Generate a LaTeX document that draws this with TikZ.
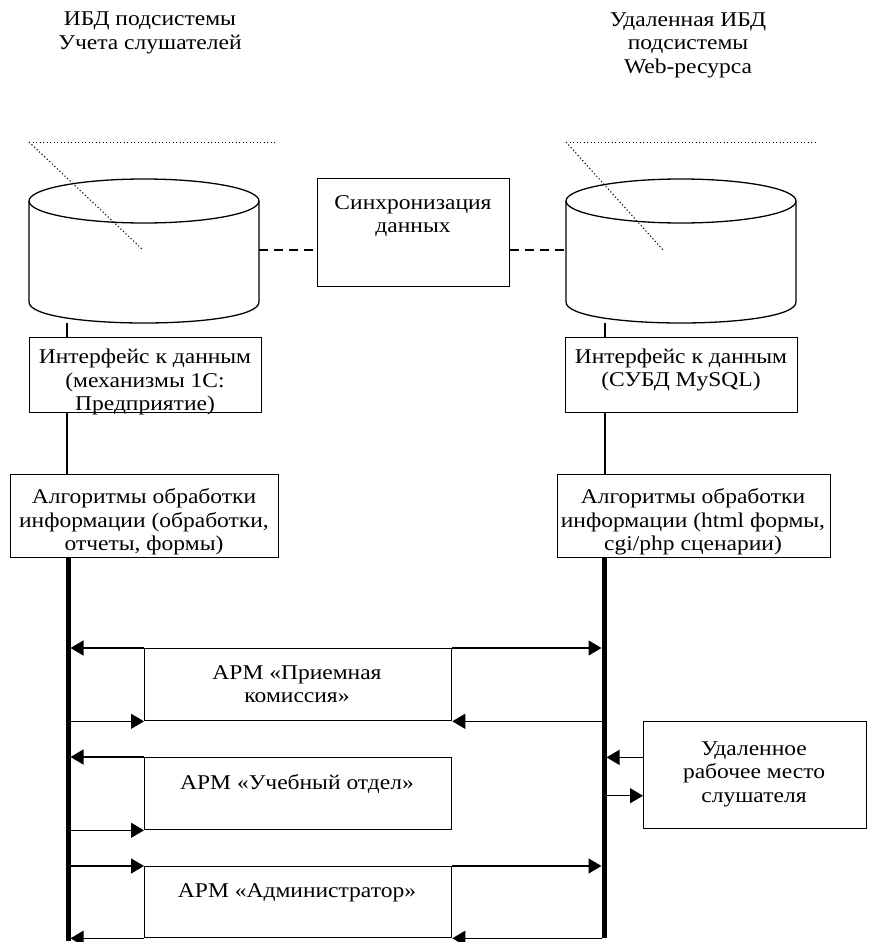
\documentclass[tikz,border=0pt]{standalone}
\usepackage{fontspec}
\setmainfont{Liberation Serif}[FakeStretch=1.12]
\usetikzlibrary{arrows.meta,calc}
\begin{document}
\begin{tikzpicture}[x=1pt,y=-1pt,
  every node/.style={font=\fontsize{21}{23.5}\selectfont},
  boxst/.style={draw, line width=1.3pt, rectangle, inner sep=0pt, anchor=north west},
  ghost/.style={inner sep=0pt, rectangle},
  txt/.style={align=center, inner sep=0pt},
  bus/.style={line width=5pt},
  conn/.style={line width=1.3pt},
  arr/.style={line width=1.4pt, -{Triangle[length=13pt,width=15pt]}},
  dotl/.style={line width=1pt, dash pattern=on 1.2pt off 2.3pt},
  dsh/.style={line width=1.5pt, dash pattern=on 9pt off 6pt}
]
\useasboundingbox (0,0) rectangle (868,942);

% titles
\node[txt] (tL) at (150,33) {ИБД подсистемы\\Учета слушателей};
\node[txt] (tR) at (688,45) {Удаленная ИБД\\подсистемы\\Web-ресурса};

% dotted guide lines
\coordinate (dLa) at (29,142);
\coordinate (dLb) at (277,142);
\coordinate (dLc) at (143,250);
\coordinate (dRa) at (566,142);
\coordinate (dRb) at (815,142);
\coordinate (dRc) at (663,250);
\draw[dotl] (dLa) -- (dLb);
\draw[dotl] (dLa) -- (dLc);
\draw[dotl] (dRa) -- (dRb);
\draw[dotl] (dRa) -- (dRc);

% cylinders
\node[ghost, minimum width=230pt, minimum height=146pt] (cylL) at (144,250) {};
\node[ghost, minimum width=230pt, minimum height=146pt] (cylR) at (681,250) {};
\draw[conn] (29,201) -- (29,302) .. controls (29,330) and (259,330) .. (259,302) -- (259,201);
\draw[conn] (144,201) ellipse [x radius=115, y radius=22];
\draw[conn] (566,201) -- (566,302) .. controls (566,330) and (796,330) .. (796,302) -- (796,201);
\draw[conn] (681,201) ellipse [x radius=115, y radius=22];

% sync box
\node[boxst, minimum width=192pt, minimum height=108pt] (sync) at (317,178) {};
\node[txt] (synct) at (413,216) {Синхронизация\\данных};
\draw[dsh] (cylL.east) -- (cylL.east -| sync.west);
\draw[dsh] (sync.east |- cylR.west) -- (cylR.west);

% interface boxes
\node[boxst, minimum width=232pt, minimum height=75pt] (ifL) at (29,337) {};
\node[txt] (ifLt) at (145,382) {Интерфейс к данным\\(механизмы 1С:\\Предприятие)};
\node[boxst, minimum width=232pt, minimum height=75pt] (ifR) at (565,337) {};
\node[txt] (ifRt) at (681,370) {Интерфейс к данным\\(СУБД MySQL)};

% algorithm boxes
\node[boxst, minimum width=268pt, minimum height=83pt] (alL) at (10,474) {};
\node[txt] (alLt) at (144,522) {Алгоритмы обработки\\информации (обработки,\\отчеты, формы)};
\node[boxst, minimum width=273pt, minimum height=83pt] (alR) at (557,474) {};
\node[txt] (alRt) at (693,522) {Алгоритмы обработки\\информации (html формы,\\cgi/php сценарии)};

% vertical links
\coordinate (xL) at (67,0);
\coordinate (xR) at (605,0);
\draw[conn] (cylL.south -| xL) -- (ifL.north -| xL);
\draw[conn] (ifL.south -| xL) -- (alL.north -| xL);
\draw[conn] (cylR.south -| xR) -- (ifR.north -| xR);
\draw[conn] (ifR.south -| xR) -- (alR.north -| xR);

% buses
\coordinate (bLt) at (68,557);
\coordinate (bLb) at (68,941);
\coordinate (bRt) at (604,557);
\coordinate (bRb) at (604,938);
\draw[bus] (bLt) -- (bLb);
\draw[bus] (bRt) -- (bRb);

% ARM boxes
\node[boxst, minimum width=307pt, minimum height=72pt] (a1) at (144,648) {};
\node[txt] (a1t) at (297,684) {АРМ «Приемная\\комиссия»};
\node[boxst, minimum width=307pt, minimum height=72pt] (a2) at (144,757) {};
\node[txt] (a2t) at (297,784) {АРМ «Учебный отдел»};
\node[boxst, minimum width=307pt, minimum height=71pt] (a3) at (144,866) {};
\node[txt] (a3t) at (297,893) {АРМ «Администратор»};

% remote workstation
\node[boxst, minimum width=223pt, minimum height=107pt] (rem) at (643,721) {};
\node[txt] (remt) at (754,774) {Удаленное\\рабочее место\\слушателя};

% arrows box 1
\draw[arr, shorten >=2.5pt] (a1.north west) -- (a1.north west -| bLt);
\draw[arr, shorten >=2.5pt] (a1.north east) -- (a1.north east -| bRt);
\draw[arr, shorten <=2.5pt] (a1.south west -| bLt) -- (a1.south west);
\draw[arr, shorten <=2.5pt] (a1.south east -| bRt) -- (a1.south east);
% arrows box 2
\draw[arr, shorten >=2.5pt] (a2.north west) -- (a2.north west -| bLt);
\draw[arr, shorten <=2.5pt] (a2.south west -| bLt) -- (a2.south west);
% arrows box 3
\draw[arr, shorten <=2.5pt] (a3.north west -| bLt) -- (a3.north west);
\draw[arr, shorten >=2.5pt] (a3.north east) -- (a3.north east -| bRt);
\draw[arr, shorten >=2.5pt] (a3.south west) -- (a3.south west -| bLt);
\draw[arr, shorten <=2.5pt] (a3.south east -| bRt) -- (a3.south east);
% remote arrows
\coordinate (r1) at ($(rem.north west)!0.336!(rem.south west)$);
\coordinate (r2) at ($(rem.north west)!0.69!(rem.south west)$);
\draw[arr, shorten >=2.5pt] (r1) -- (r1 -| bRt);
\draw[arr, shorten <=2.5pt] (r2 -| bRt) -- (r2);

\end{tikzpicture}
\end{document}
